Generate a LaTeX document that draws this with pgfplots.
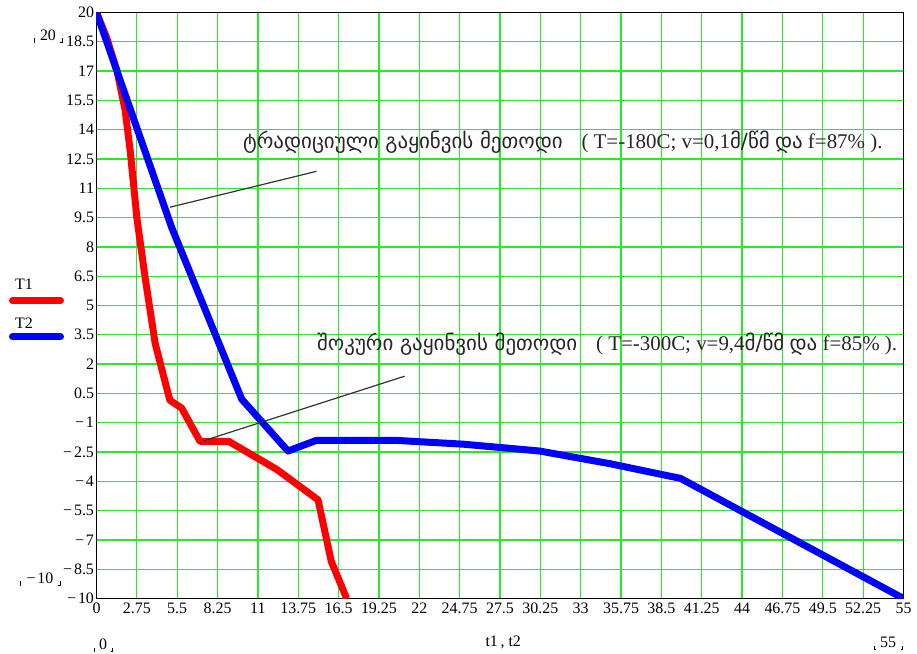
\documentclass[border=0pt]{standalone}
\usepackage{fontspec}
\setmainfont{Liberation Serif}
\newfontfamily\geo{DejaVu Sans}
\usepackage{pgfplots}
\pgfplotsset{compat=1.18}
\definecolor{gridgreen}{RGB}{40,235,40}
\definecolor{tred}{RGB}{255,0,0}
\definecolor{tblue}{RGB}{0,0,255}

\newcommand{\lbl}{\fontsize{16}{16}\selectfont}
\newcommand{\ann}{\fontsize{21}{21}\selectfont}
\newcommand{\mn}{−\hspace{0.12em}}

\begin{document}
\begin{tikzpicture}
\begin{axis}[
  at={(0,0)}, anchor=south west,
  scale only axis, width=807bp, height=586bp,
  xmin=0, xmax=55, ymin=-10, ymax=20,
  xtick={0,2.75,5.5,8.25,11,13.75,16.5,19.25,22,24.75,27.5,30.25,33,35.75,38.5,41.25,44,46.75,49.5,52.25,55},
  xticklabels={0,2.75,5.5,8.25,11,13.75,16.5,19.25,22,24.75,27.5,30.25,33,35.75,38.5,41.25,44,46.75,49.5,52.25,55},
  ytick={-10,-8.5,-7,-5.5,-4,-2.5,-1,0.5,2,3.5,5,6.5,8,9.5,11,12.5,14,15.5,17,18.5,20},
  yticklabels={\mn10,\mn8.5,\mn7,\mn5.5,\mn4,\mn2.5,\mn1,0.5,2,3.5,5,6.5,8,9.5,11,12.5,14,15.5,17,18.5,20},
  major tick length=0pt,
  grid=major, grid style={gridgreen, line width=1.3bp},
  axis line style={black, line width=1.6bp},
  tick label style={font=\lbl, text=black},
  xticklabel style={yshift=-1bp},
  yticklabel style={xshift=1bp},
  xlabel={t1\,, t2},
  xlabel style={font=\lbl, at={(rel axis cs:0.504,0)}, anchor=center, yshift=-43.5bp},
]
\addplot[tred, line width=7bp, line join=round] coordinates {
  (0,20) (0.7,18.7) (1.4,17.0) (1.95,15) (2.3,12.9) (2.75,9.5) (3.3,6.5)
  (4,3.05) (5,0.15) (5.8,-0.25) (7.05,-1.95) (9,-1.95) (12.3,-3.4)
  (15.1,-4.95) (16,-8.1) (17.05,-10)
};
\addplot[tblue, line width=7bp, line join=round] coordinates {
  (0,20) (5.12,9.0) (9.9,0.2) (13.05,-2.45) (15,-1.9) (20.3,-1.9)
  (25,-2.1) (30.2,-2.45) (35,-3.1) (39.8,-3.85) (55,-10)
};
\draw[black!80, line width=1.2bp] (axis cs:5,10.03) -- (axis cs:15,11.87);
\draw[black!80, line width=1.2bp] (axis cs:7.28,-1.93) -- (axis cs:21,1.38);
\node[anchor=base west, inner sep=0, font=\ann, text=black!85] at (axis cs:9.98,13.04)
  {{\geo ტრადიციული გაყინვის მეთოდი}\hspace{0.9em}( T=-180C; v=0,1{\geo მ/წმ} {\geo და} f=87\% ).};
\node[anchor=base west, inner sep=0, font=\ann, text=black!85] at (axis cs:15.02,2.71)
  {{\geo შოკური გაყინვის მეთოდი}\hspace{0.9em}( T=-300C; v=9,4{\geo მ/წმ} {\geo და} f=85\% ).};
\end{axis}
% legend keys
\node[font=\lbl] at (-72.5bp,314.5bp) {T1};
\draw[tred, line width=7bp, line cap=round] (-84bp,297.5bp) -- (-36bp,297.5bp);
\node[font=\lbl] at (-72.5bp,275.5bp) {T2};
\draw[tblue, line width=7bp, line cap=round] (-84bp,261.5bp) -- (-36bp,261.5bp);
% axis limit labels
\node[font=\lbl] at (-48.5bp,563.5bp) {20};
\node[font=\lbl] at (-56.5bp,20.5bp) {\mn10};
\node[font=\lbl] at (6.5bp,-46bp) {0};
\node[font=\lbl] at (791.5bp,-44bp) {55};
\foreach \x/\y/\w in {-48.5/563.5/11, -56.5/20.5/17, 6.5/-46/6, 791.5/-44/11}{
  \draw[black, line width=0.8bp] (\x bp-\w bp-3bp,\y bp-3bp) -- ++(0,-4bp) -- ++(1.5bp,0);
  \draw[black, line width=0.8bp] (\x bp+\w bp+3bp,\y bp-3bp) -- ++(0,-4bp) -- ++(-1.5bp,0);
}
\pgfresetboundingbox
\path (-96.5bp,-55.5bp) rectangle (820.5bp,598.5bp);
\end{tikzpicture}
\end{document}
